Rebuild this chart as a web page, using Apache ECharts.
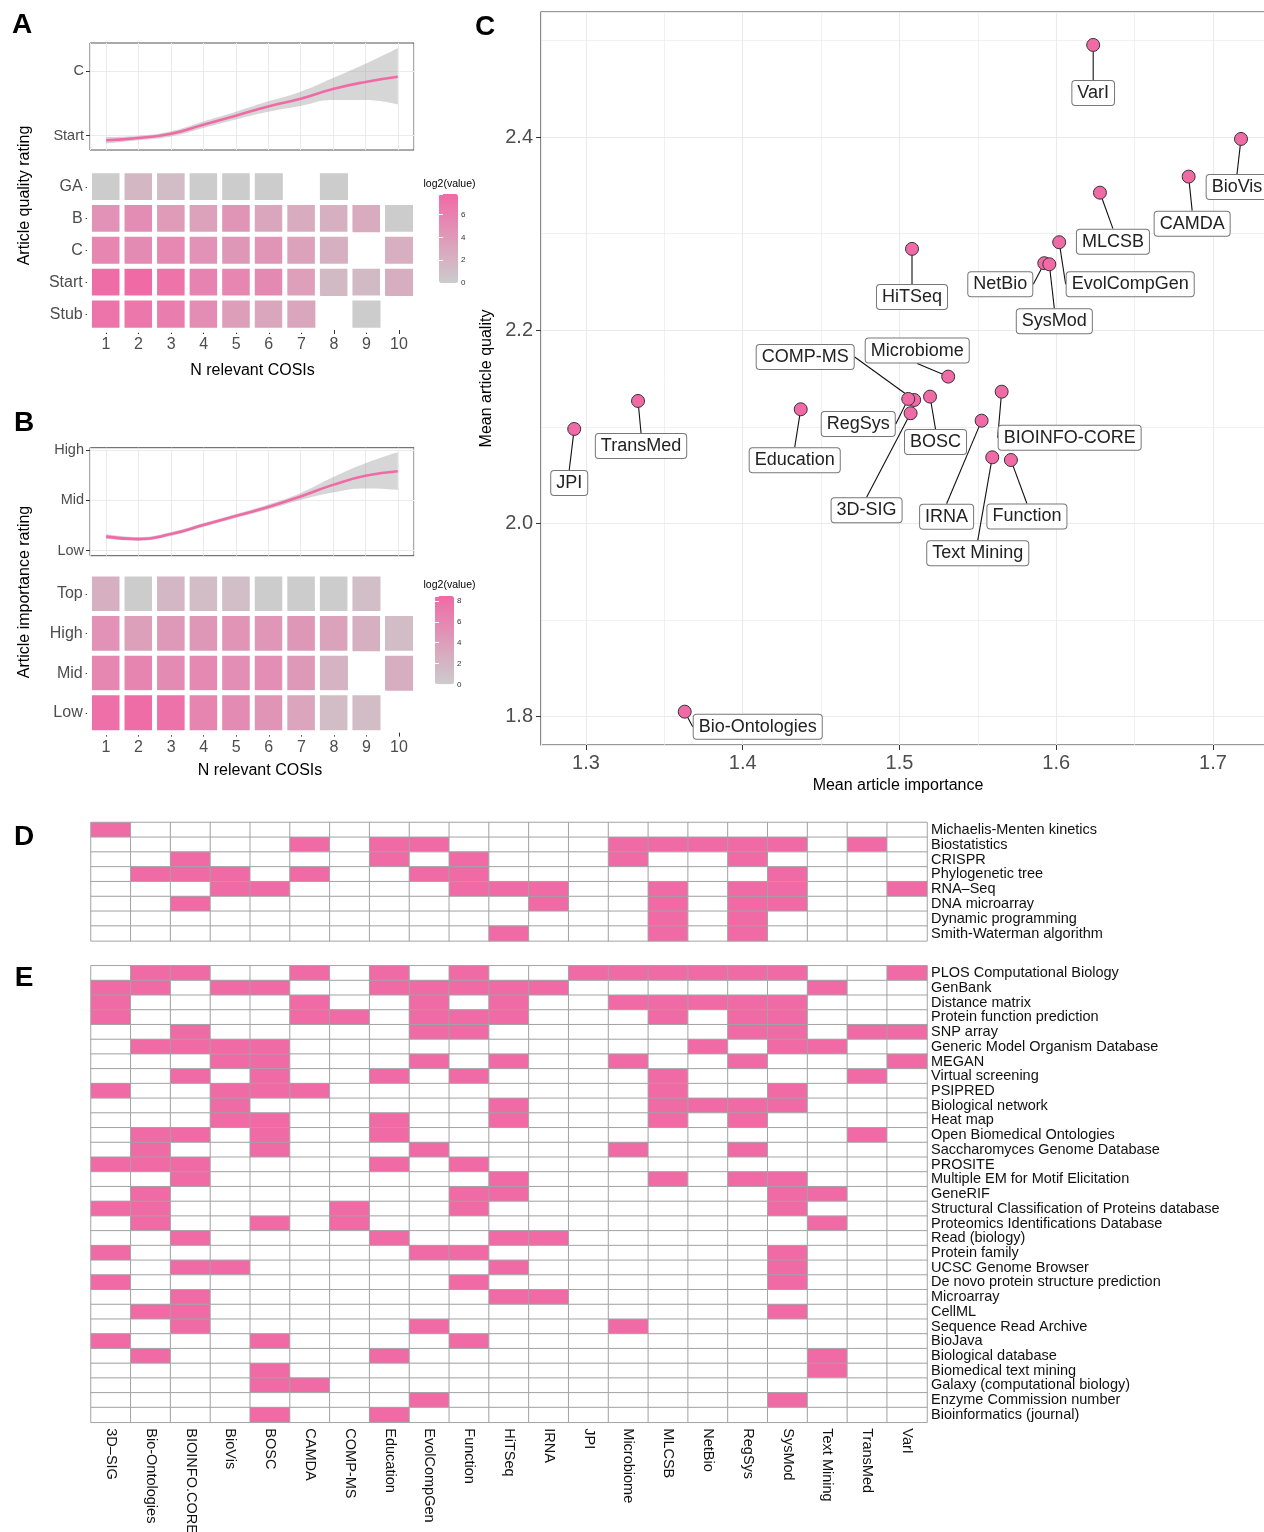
<!DOCTYPE html>
<html><head><meta charset="utf-8">
<script src="https://cdn.jsdelivr.net/npm/echarts@6/dist/echarts.min.js"></script>
<style>html,body{margin:0;padding:0;background:#fff}#c{width:1264px;height:1532px}</style>
</head><body><div id="c"></div>
<script>
const FONT = '"Liberation Sans", Arial, Helvetica, sans-serif';
const PINK = '#f06aa6';

// ---------- Panels A & B ----------
const nCosis = ['1','2','3','4','5','6','7','8','9','10'];

const qualityLevels = ['GA','B','C','Start','Stub'];
const qualityLog2 = [
  [0, 1.6, 1.2, 0, 0, 0, null, 0, null, null],
  [4.6, 5.0, 3.8, 3.4, 4.4, 3.0, 2.6, 2.2, 2.6, 0],
  [5.6, 5.2, 5.4, 4.6, 4.2, 4.4, 3.4, 2.2, null, 2.3],
  [7.6, 7.7, 7.1, 5.8, 5.6, 5.3, 3.6, 1.4, 1.4, 2.4],
  [7.0, 6.8, 6.2, 5.0, 3.7, 3.0, 3.0, null, 0, null]
];
const qualityFit = [1.93, 1.965, 2.03, 2.17, 2.31, 2.45, 2.57, 2.72, 2.83, 2.91];
const qualityLo  = [1.88, 1.93, 1.99, 2.12, 2.25, 2.37, 2.46, 2.55, 2.55, 2.48];
const qualityHi  = [1.98, 2.00, 2.07, 2.22, 2.37, 2.53, 2.68, 2.89, 3.11, 3.35];
const qualityTicks = { 2: 'Start', 3: 'C' };

const importanceLevels = ['Top','High','Mid','Low'];
const importanceLog2 = [
  [2.4, 0, 1.8, 1.4, 1.2, 0, 0, 0, 1.2, null],
  [5.0, 3.8, 4.4, 4.6, 4.9, 4.7, 4.6, 3.6, 2.4, 1.4],
  [6.0, 6.2, 5.6, 5.8, 5.4, 5.4, 4.4, 2.2, null, 2.6],
  [8.0, 8.2, 7.8, 6.2, 5.6, 4.8, 3.4, 1.4, 1.4, null]
];
const importanceFit = [1.28, 1.23, 1.33, 1.51, 1.69, 1.87, 2.08, 2.31, 2.49, 2.58];
const importanceLo  = [1.23, 1.20, 1.29, 1.47, 1.65, 1.82, 2.01, 2.16, 2.24, 2.21];
const importanceHi  = [1.33, 1.27, 1.37, 1.55, 1.73, 1.92, 2.15, 2.46, 2.74, 2.96];
const importanceTicks = { 1: 'Low', 2: 'Mid', 3: 'High' };

// ---------- Panel C ----------
const cosiNames = ['VarI','BioVis','CAMDA','MLCSB','EvolCompGen','NetBio','SysMod','HiTSeq','Microbiome','BIOINFO-CORE','BOSC','COMP-MS','RegSys','3D-SIG','IRNA','Text Mining','Function','Education','TransMed','JPI','Bio-Ontologies'];
const meanImportance = [1.6236,1.7179,1.6845,1.6279,1.6019,1.5924,1.5956,1.5080,1.5311,1.5652,1.5195,1.5094,1.5056,1.5071,1.5524,1.5592,1.5711,1.4370,1.3332,1.2925,1.3630];
const meanQuality    = [2.4953,2.3980,2.3590,2.3424,2.2911,2.2694,2.2683,2.2842,2.1520,2.1364,2.1313,2.1278,2.1289,2.1141,2.1064,2.0685,2.0657,2.1182,2.1268,2.0978,1.8052];
const minorBreaksX = [1.35, 1.45, 1.55, 1.65];
const minorBreaksY = [1.9, 2.1, 2.3, 2.5];

// ---------- Panels D & E ----------
const cosiColumns = ['3D\u2013SIG','Bio-Ontologies','BIOINFO.CORE','BioVis','BOSC','CAMDA','COMP-MS','Education','EvolCompGen','Function','HiTSeq','IRNA','JPI','Microbiome','MLCSB','NetBio','RegSys','SysMod','Text Mining','TransMed','VarI'];
const methodTopics = ['Michaelis-Menten kinetics','Biostatistics','CRISPR','Phylogenetic tree','RNA\u2013Seq','DNA microarray','Dynamic programming','Smith-Waterman algorithm'];
const methodHits = [
  [0],
  [5,7,8,13,14,15,16,17,19],
  [2,7,9,13,16],
  [1,2,3,5,8,9,17],
  [3,4,9,10,11,14,16,17,20],
  [2,11,14,16,17],
  [14,16],
  [10,14,16]
];
const resourceTopics = ['PLOS Computational Biology','GenBank','Distance matrix','Protein function prediction','SNP array','Generic Model Organism Database','MEGAN','Virtual screening','PSIPRED','Biological network','Heat map','Open Biomedical Ontologies','Saccharomyces Genome Database','PROSITE','Multiple EM for Motif Elicitation','GeneRIF','Structural Classification of Proteins database','Proteomics Identifications Database','Read (biology)','Protein family','UCSC Genome Browser','De novo protein structure prediction','Microarray','CellML','Sequence Read Archive','BioJava','Biological database','Biomedical text mining','Galaxy (computational biology)','Enzyme Commission number','Bioinformatics (journal)'];
const resourceHits = [
  [1,2,5,7,9,12,13,14,15,16,17,20],
  [0,1,3,4,7,8,9,10,11,18],
  [0,5,8,10,13,14,15,16,17],
  [0,5,6,8,9,10,14,16,17],
  [2,8,9,16,17,19,20],
  [1,2,3,4,15,17,18],
  [3,4,8,10,13,16,20],
  [2,4,7,9,14,19],
  [0,3,4,5,14,17],
  [3,10,14,15,16,17],
  [3,4,7,10,14,16],
  [1,2,4,7,19],
  [1,4,8,13,16],
  [0,1,2,7,9],
  [2,10,14,16,17],
  [1,9,10,17,18],
  [0,1,6,9,17],
  [1,4,6,18],
  [2,7,10,11],
  [0,8,9,17],
  [2,3,10,17],
  [0,9,17],
  [2,10,11],
  [1,2,17],
  [2,8,13],
  [0,4,9],
  [1,7,18],
  [4,18],
  [4,5],
  [8,17],
  [4,7]
];

// ---------- layout (styles only) ----------
const labelShift = [[0,48],[-4,48],[3.5,47],[13,49],[71,42],[-44,21],[5,57],[0,48],[-31,-26],[68,46],[5.5,45.5],[-109,-43],[-50,25],[-44,97],[-35,96],[-14.5,96],[16,56.5],[-6,51],[3,45],[-5,54],[73,15]];

// ---------- builders ----------
function heatCells(matrix) {
  const out = [];
  matrix.forEach((row, r) => row.forEach((v, c) => { if (v !== null) out.push([c, r, v]); }));
  return out;
}
function binCells(hits, nCols) {
  const out = [];
  hits.forEach((h, r) => { for (let c = 0; c < nCols; c++) out.push([c, r, h.includes(c) ? 1 : 0]); });
  return out;
}
const near = (v, map) => { for (const k in map) if (Math.abs(v - Number(k)) < 1e-6) return map[k]; return ''; };

const GRID_LINE = '#ebebeb';
const TXT = '#4d4d4d';
const NOB = {outerBoundsMode: 'none'};

function lineXAxis(grid) {
  return { gridIndex: grid, type: 'value', min: 0.5, max: 10.5, splitNumber: 10,
    axisLine: {show:false}, axisTick: {show:false}, axisLabel: {show:false},
    splitLine: {show:true, lineStyle:{color:GRID_LINE, width:1}} };
}
function lineCatAxis(grid) {
  return { gridIndex: grid, type: 'category', data: nCosis, boundaryGap: true, show: false };
}
function lineYAxis(grid, min, max, split, map) {
  const vals = Object.keys(map).map(Number);
  return { gridIndex: grid, type: 'value', min, max, splitNumber: split,
    axisLine: {show:false},
    axisTick: {show:true, length:4, customValues: vals, lineStyle:{color:'#333'}},
    axisLabel: {show:true, customValues: vals, fontSize:14.5, color:TXT, fontFamily:FONT, margin:6,
      formatter: v => near(v, map)},
    splitLine: {show:true, lineStyle:{color:GRID_LINE, width:1}} };
}
function heatXAxis(grid, nameGap, padLeft) {
  return { gridIndex: grid, type: 'category', data: nCosis,
    axisLine: {show:false},
    axisTick: {show:true, alignWithLabel:true, length:4, lineStyle:{color:'#333'}},
    axisLabel: {fontSize:16, color:TXT, fontFamily:FONT, margin:7},
    splitLine: {show:false},
    name: 'N relevant COSIs', nameLocation: 'middle', nameGap: nameGap,
    nameTextStyle: {fontSize:16, color:'#000', fontFamily:FONT, padding:[0,0,0,padLeft]} };
}
function heatYAxis(grid, levels) {
  return { gridIndex: grid, type: 'category', data: levels, inverse: true,
    axisLine: {show:false},
    axisTick: {show:true, alignWithLabel:true, length:4, lineStyle:{color:'#333'}},
    axisLabel: {fontSize:16, color:TXT, fontFamily:FONT, margin:7},
    splitLine: {show:false} };
}
function barAxes(grid, max) {
  return [
    { gridIndex: grid, type:'value', min:0, max, interval:2, position:'right', z:10,
      axisLine:{show:false}, splitLine:{show:false},
      axisTick:{show:true, inside:true, length:4, lineStyle:{color:'#fff', width:1}},
      axisLabel:{fontSize:8, color:'#333', fontFamily:FONT, margin:3, showMaxLabel:false} },
    { gridIndex: grid, type:'value', min:0, max, interval:2, position:'left', z:10,
      axisLine:{show:false}, splitLine:{show:false}, axisLabel:{show:false},
      axisTick:{show:true, inside:true, length:4, lineStyle:{color:'#fff', width:1}} }
  ];
}
function hiddenX(grid) {
  return { gridIndex: grid, type:'value', min:0, max:1, show:false };
}
function bandSeries(xi, yi, lo, hi, fit, key) {
  return [
    { type:'line', xAxisIndex:xi, yAxisIndex:yi, data: lo.slice(), stack:key, smooth:true,
      symbol:'none', lineStyle:{opacity:0}, silent:true, z:2 },
    { type:'line', xAxisIndex:xi, yAxisIndex:yi, data: hi.map((h,i)=>+(h-lo[i]).toFixed(4)), stack:key, smooth:true,
      symbol:'none', lineStyle:{opacity:0}, areaStyle:{color:'#999999', opacity:0.4}, silent:true, z:2 },
    { type:'line', xAxisIndex:xi, yAxisIndex:yi, data: fit.slice(), smooth:true,
      symbol:'none', lineStyle:{color:PINK, width:2.6}, silent:true, z:3 }
  ];
}

const option = {
  animation: false,
  textStyle: {fontFamily: FONT},
  grid: [
    {...NOB, left:90, top:43, width:324, height:107, show:true, borderColor:'#555', borderWidth:1, backgroundColor:'#fff'}, //0 A line
    {...NOB, left:89.7, top:171, width:325.6, height:159},                                                                   //1 A heat
    {...NOB, left:439, top:194, width:19, height:89},                                                                        //2 A bar
    {...NOB, left:90, top:447.7, width:324, height:108, show:true, borderColor:'#555', borderWidth:1, backgroundColor:'#fff'},//3 B line
    {...NOB, left:89.7, top:574.2, width:325.6, height:158.4},                                                               //4 B heat
    {...NOB, left:435, top:596, width:19, height:88.3},                                                                      //5 B bar
    {...NOB, left:541, top:12, width:729, height:733, show:true, borderColor:'#333', borderWidth:1.2},                       //6 C
    {...NOB, left:91, top:822.5, width:836, height:118.4},                                                                   //7 D
    {...NOB, left:91, top:965.8, width:836, height:456.5}                                                                    //8 E
  ],
  xAxis: [
    lineXAxis(0),          //0
    heatXAxis(1, 33, 0),   //1
    hiddenX(2),            //2
    lineXAxis(3),          //3
    heatXAxis(4, 30, 15),  //4
    hiddenX(5),            //5
    { gridIndex:6, type:'value', min:1.2713, max:1.7364, splitNumber:5,
      axisLine:{show:false},
      axisTick:{show:true, length:5, lineStyle:{color:'#333'}},
      axisLabel:{fontSize:20, color:TXT, fontFamily:FONT, margin:8, showMinLabel:false, showMaxLabel:false,
        formatter: v => v.toFixed(1)},
      splitLine:{show:true, lineStyle:{color:GRID_LINE, width:1.1}},
      name:'Mean article importance', nameLocation:'middle', nameGap:33,
      nameTextStyle:{fontSize:16, color:'#000', fontFamily:FONT, padding:[0,15,0,0]} },   //6
    { gridIndex:7, type:'category', data: cosiColumns, axisLine:{show:false}, axisTick:{show:false}, axisLabel:{show:false}, splitLine:{show:false} }, //7
    { gridIndex:8, type:'category', data: cosiColumns, axisLine:{show:false}, axisTick:{show:false}, splitLine:{show:false},
      axisLabel:{interval:0, rotate:-90, fontSize:14.5, color:'#111', fontFamily:FONT, margin:6} }, //8
    lineCatAxis(0),   //9
    lineCatAxis(3)    //10
  ],
  yAxis: [
    lineYAxis(0, 1.78, 3.43, 3, qualityTicks),        //0
    heatYAxis(1, qualityLevels),                      //1
    ...barAxes(2, 7.8),                               //2,3
    lineYAxis(3, 0.9, 3.05, 4, importanceTicks),      //4
    heatYAxis(4, importanceLevels),                   //5
    ...barAxes(5, 8.5),                               //6,7
    { gridIndex:6, type:'value', min:1.7707, max:2.5294, splitNumber:4,
      axisLine:{show:false},
      axisTick:{show:true, length:5, lineStyle:{color:'#333'}},
      axisLabel:{fontSize:20, color:TXT, fontFamily:FONT, margin:8, showMinLabel:false, showMaxLabel:false,
        formatter: v => v.toFixed(1)},
      splitLine:{show:true, lineStyle:{color:GRID_LINE, width:1.1}},
      name:'Mean article quality', nameLocation:'middle', nameGap:41, nameRotate:90,
      nameTextStyle:{fontSize:16, color:'#000', fontFamily:FONT} },  //8
    { gridIndex:7, type:'category', data: methodTopics, inverse:true, position:'right',
      axisLine:{show:false}, axisTick:{show:false}, splitLine:{show:false},
      axisLabel:{interval:0, fontSize:14.5, color:'#111', fontFamily:FONT, margin:4} }, //9
    { gridIndex:8, type:'category', data: resourceTopics, inverse:true, position:'right',
      axisLine:{show:false}, axisTick:{show:false}, splitLine:{show:false},
      axisLabel:{interval:0, fontSize:14.5, color:'#111', fontFamily:FONT, margin:4} }  //10
  ],
  visualMap: [
    { type:'continuous', seriesIndex:3, min:0, max:7.8, inRange:{color:['#cccccc', PINK]},
      orient:'vertical', left:439, top:194, itemWidth:19, itemHeight:89, padding:0,
      calculable:false, hoverLink:false, showLabel:false, text:null },
    { type:'continuous', seriesIndex:7, min:0, max:8.5, inRange:{color:['#cccccc', PINK]},
      orient:'vertical', left:435, top:596, itemWidth:19, itemHeight:88.3, padding:0,
      calculable:false, hoverLink:false, showLabel:false, text:null },
    { type:'piecewise', show:false, seriesIndex:[10, 11], pieces:[{value:0, color:'#ffffff'}, {value:1, color:PINK}] }
  ],
  series: [
    ...bandSeries(9, 0, qualityLo, qualityHi, qualityFit, 'qa'),            //0,1,2
    { type:'heatmap', xAxisIndex:1, yAxisIndex:1, data: heatCells(qualityLog2),
      itemStyle:{borderColor:'#fff', borderWidth:5}, emphasis:{disabled:true}, silent:true }, //3
    ...bandSeries(10, 4, importanceLo, importanceHi, importanceFit, 'im'),  //4,5,6
    { type:'heatmap', xAxisIndex:4, yAxisIndex:5, data: heatCells(importanceLog2),
      itemStyle:{borderColor:'#fff', borderWidth:5}, emphasis:{disabled:true}, silent:true }, //7
    { type:'scatter', xAxisIndex:6, yAxisIndex:8, data: [], silent:true, z:1,
      markLine:{ silent:true, symbol:['none','none'], label:{show:false},
        lineStyle:{color:GRID_LINE, width:0.7, type:'solid'},
        data: [...minorBreaksX.map(v => ({xAxis:v})), ...minorBreaksY.map(v => ({yAxis:v}))] } }, //8
    { type:'scatter', xAxisIndex:6, yAxisIndex:8, z:5,
      data: cosiNames.map((n, i) => ({name:n, value:[meanImportance[i], meanQuality[i]]})),
      symbol:'circle', symbolSize:13,
      itemStyle:{color:PINK, borderColor:'#333', borderWidth:1, opacity:1},
      emphasis:{disabled:true},
      label:{show:true, position:'inside', formatter:'{b}', fontSize:18, color:'#222', fontFamily:FONT,
        backgroundColor:'#fff', borderColor:'#777', borderWidth:1, borderRadius:3, padding:[3,5,2,5], lineHeight:19},
      labelLine:{show:true, lineStyle:{color:'#111', width:1.1}},
      labelLayout: p => ({dx: labelShift[p.dataIndex][0], dy: labelShift[p.dataIndex][1]}) }, //9
    { type:'heatmap', xAxisIndex:7, yAxisIndex:9, data: binCells(methodHits, cosiColumns.length),
      itemStyle:{borderColor:'#a3a3a3', borderWidth:1}, emphasis:{disabled:true}, silent:true }, //10
    { type:'heatmap', xAxisIndex:8, yAxisIndex:10, data: binCells(resourceHits, cosiColumns.length),
      itemStyle:{borderColor:'#a3a3a3', borderWidth:1}, emphasis:{disabled:true}, silent:true }  //11
  ],
  graphic: [
    {type:'text', x:22, y:25, style:{text:'A', fontSize:28, fontWeight:'bold', fontFamily:FONT, fill:'#000', align:'center', verticalAlign:'middle'}},
    {type:'text', x:24, y:423, style:{text:'B', fontSize:28, fontWeight:'bold', fontFamily:FONT, fill:'#000', align:'center', verticalAlign:'middle'}},
    {type:'text', x:485, y:27, style:{text:'C', fontSize:28, fontWeight:'bold', fontFamily:FONT, fill:'#000', align:'center', verticalAlign:'middle'}},
    {type:'text', x:24, y:837, style:{text:'D', fontSize:28, fontWeight:'bold', fontFamily:FONT, fill:'#000', align:'center', verticalAlign:'middle'}},
    {type:'text', x:24, y:978, style:{text:'E', fontSize:28, fontWeight:'bold', fontFamily:FONT, fill:'#000', align:'center', verticalAlign:'middle'}},
    {type:'text', x:24.5, y:195.5, rotation:Math.PI/2, style:{text:'Article quality rating', fontSize:16, fontFamily:FONT, fill:'#000', align:'center', verticalAlign:'middle'}},
    {type:'text', x:24.5, y:592, rotation:Math.PI/2, style:{text:'Article importance rating', fontSize:16, fontFamily:FONT, fill:'#000', align:'center', verticalAlign:'middle'}},
    {type:'text', x:449.5, y:184, style:{text:'log2(value)', fontSize:10.5, fontFamily:FONT, fill:'#000', align:'center', verticalAlign:'middle'}},
    {type:'text', x:449.5, y:585, style:{text:'log2(value)', fontSize:10.5, fontFamily:FONT, fill:'#000', align:'center', verticalAlign:'middle'}}
  ]
};

const chart = echarts.init(document.getElementById('c'), null, {renderer:'canvas', width:1264, height:1532});
chart.setOption(option);
</script>
</body></html>
